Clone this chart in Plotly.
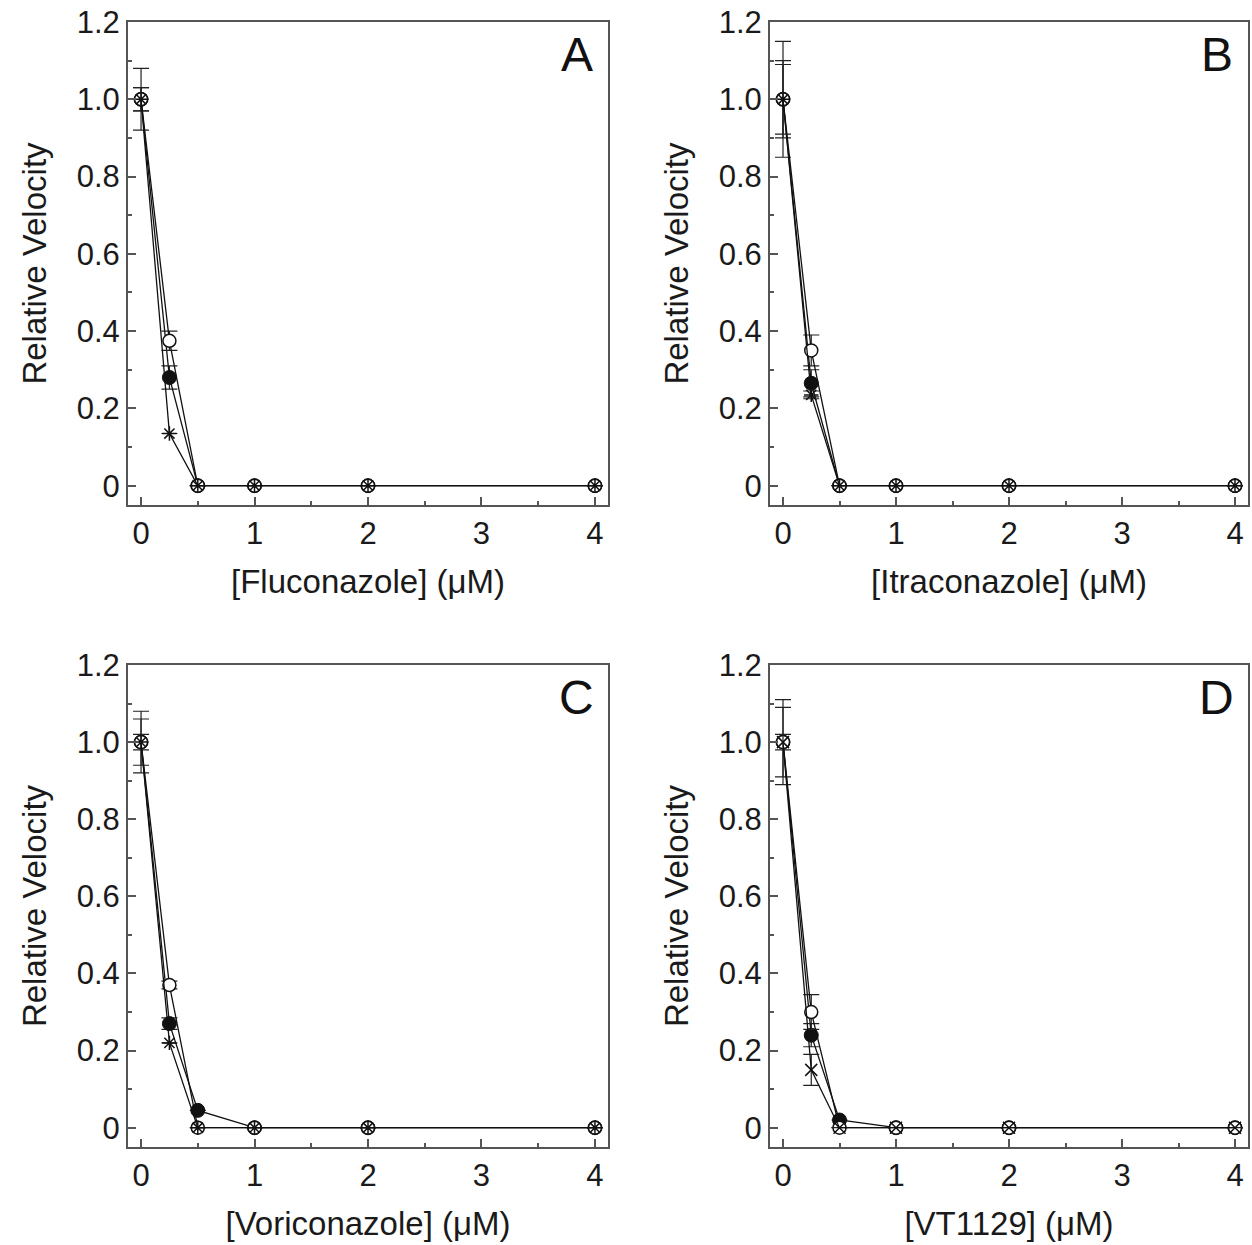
import plotly.graph_objects as go

conc = [0, 0.25, 0.5, 1, 2, 4]

drugs = ["Fluconazole", "Itraconazole", "Voriconazole", "VT1129"]
panel_letters = ["A", "B", "C", "D"]

# series: open circle, filled circle, asterisk/cross
A_open = [1.0, 0.375, 0, 0, 0, 0]
A_filled = [1.0, 0.28, 0, 0, 0, 0]
A_star = [1.0, 0.135, 0, 0, 0, 0]
A_open_err = [0.08, 0.025, 0, 0, 0, 0]
A_filled_err = [0.03, 0.03, 0, 0, 0, 0]
A_star_err = [0.03, 0.0, 0, 0, 0, 0]

B_open = [1.0, 0.35, 0, 0, 0, 0]
B_filled = [1.0, 0.265, 0, 0, 0, 0]
B_star = [1.0, 0.235, 0, 0, 0, 0]
B_open_err = [0.15, 0.04, 0, 0, 0, 0]
B_filled_err = [0.10, 0.035, 0, 0, 0, 0]
B_star_err = [0.09, 0.01, 0, 0, 0, 0]

C_open = [1.0, 0.37, 0, 0, 0, 0]
C_filled = [1.0, 0.27, 0.045, 0, 0, 0]
C_star = [1.0, 0.22, 0, 0, 0, 0]
C_open_err = [0.08, 0.01, 0, 0, 0, 0]
C_filled_err = [0.06, 0.015, 0, 0, 0, 0]
C_star_err = [0.02, 0.0, 0, 0, 0, 0]

D_open = [1.0, 0.30, 0, 0, 0, 0]
D_filled = [1.0, 0.24, 0.02, 0, 0, 0]
D_star = [1.0, 0.15, 0, 0, 0, 0]
D_open_err = [0.11, 0.045, 0, 0, 0, 0]
D_filled_err = [0.09, 0.03, 0, 0, 0, 0]
D_star_err = [0.02, 0.04, 0, 0, 0, 0]

y_ticks = [0, 0.2, 0.4, 0.6, 0.8, 1.0, 1.2]
y_tick_text = ["0", "0.2", "0.4", "0.6", "0.8", "1.0", "1.2"]
x_ticks = [0, 1, 2, 3, 4]

panels = [
    (A_open, A_filled, A_star, A_open_err, A_filled_err, A_star_err, "asterisk-open"),
    (B_open, B_filled, B_star, B_open_err, B_filled_err, B_star_err, "asterisk-open"),
    (C_open, C_filled, C_star, C_open_err, C_filled_err, C_star_err, "asterisk-open"),
    (D_open, D_filled, D_star, D_open_err, D_filled_err, D_star_err, "x-thin-open"),
]

W, H = 1252, 1245
# pixel boxes of plot areas (left, right, top, bottom)
boxes = [(128, 608, 22, 505), (770, 1248, 22, 505),
         (128, 608, 665, 1147), (770, 1248, 665, 1147)]

FONT = "Liberation Sans, Arial, sans-serif"
TXT = "#1a1a1a"
AX = "#555555"

fig = go.Figure()
layout = dict(width=W, height=H, margin=dict(l=0, r=0, t=0, b=0, autoexpand=False),
              paper_bgcolor="white", plot_bgcolor="white",
              showlegend=False, font=dict(family=FONT, color=TXT))
annotations = []

for i, (o, f, s, oe, fe, se, ssym) in enumerate(panels):
    n = "" if i == 0 else str(i + 1)
    xa, ya = "x" + n, "y" + n
    l, r, t, b = boxes[i]
    err_style = dict(type="data", thickness=1.2, width=8, color="#222")
    common = dict(x=conc, xaxis=xa, yaxis=ya, mode="lines+markers",
                  line=dict(color="#111", width=1.3), cliponaxis=False)
    fig.add_trace(go.Scatter(y=f, error_y=dict(array=fe, **err_style),
                             marker=dict(symbol="circle", size=14, color="#111",
                                         line=dict(color="#111", width=1)),
                             name="filled", **common))
    fig.add_trace(go.Scatter(y=o, error_y=dict(array=oe, **err_style),
                             marker=dict(symbol="circle", size=13, color="white",
                                         line=dict(color="#111", width=1.5)),
                             name="open", **common))
    fig.add_trace(go.Scatter(y=s, error_y=dict(array=se, **err_style),
                             marker=dict(symbol=ssym, size=12, color="#111",
                                         line=dict(color="#111", width=1.5)),
                             name="third", **common))
    axis_common = dict(showline=True, linecolor=AX, linewidth=2, mirror=True,
                       ticks="inside", ticklen=8, tickwidth=1.5, tickcolor=AX,
                       showgrid=False, zeroline=False, automargin=False,
                       tickfont=dict(family=FONT, size=31, color=TXT))
    layout["xaxis" + n] = dict(
        domain=[l / W, r / W], anchor=ya, range=[-0.115, 4.115],
        tickvals=x_ticks, ticktext=[str(v) for v in x_ticks],
        minor=dict(dtick=0.5, tick0=0, ticks="inside", ticklen=4, tickcolor=AX),
        title=dict(text="[" + drugs[i] + "] (\u03bcM)", standoff=20,
                   font=dict(family=FONT, size=33, color=TXT)),
        **axis_common)
    layout["yaxis" + n] = dict(
        domain=[1 - b / H, 1 - t / H], anchor=xa, range=[-0.05, 1.2],
        tickvals=y_ticks, ticktext=y_tick_text,
        minor=dict(dtick=0.1, tick0=0, ticks="inside", ticklen=4, tickcolor=AX),
        title=dict(text="Relative Velocity", standoff=20,
                   font=dict(family=FONT, size=33, color=TXT)),
        **axis_common)
    annotations.append(dict(text=panel_letters[i], xref=xa + " domain", yref=ya + " domain",
                            x=0.935, y=0.932, xanchor="center", yanchor="middle",
                            showarrow=False, font=dict(family=FONT, size=48, color="#111")))

layout["annotations"] = annotations
fig.update_layout(**layout)
fig.write_html("out.html", config={"displayModeBar": False},
               post_script="document.body.style.margin='0';document.body.style.overflow='hidden';")
